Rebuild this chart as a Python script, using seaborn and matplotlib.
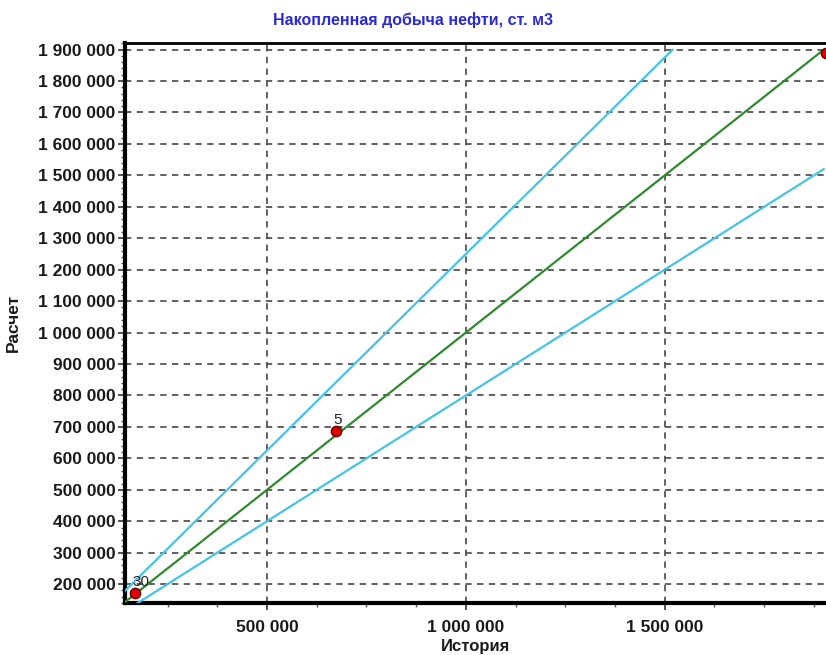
import matplotlib
matplotlib.use("Agg")
import matplotlib.pyplot as plt
import matplotlib.ticker as mticker
import seaborn as sns
import pandas as pd

# Data
history = [168000, 673000, 1905000]
calc = [171000, 687000, 1890000]
point_labels = ["30", "5", ""]
ratio_upper = 1.25
ratio_lower = 0.8
line_max = 1900000

title = "Накопленная добыча нефти, ст. м3"
xlabel = "История"
ylabel = "Расчет"

sns.set_style("white")
plt.rcParams['font.family'] = ['Liberation Sans', 'DejaVu Sans']

fig = plt.figure(figsize=(8.26, 6.55), dpi=100)
ax = fig.add_axes([125 / 826, 1 - 603 / 655, 702 / 826, 560 / 655])

# Reference lines
ref = pd.DataFrame({
    "x": [0, line_max / ratio_upper, 0, line_max, 0, line_max],
    "y": [0, line_max, 0, line_max, 0, line_max * ratio_lower],
    "line": ["upper", "upper", "equal", "equal", "lower", "lower"],
})
palette = {"upper": "#45c3e6", "equal": "#2f8a2f", "lower": "#45c3e6"}
sns.lineplot(data=ref, x="x", y="y", hue="line", palette=palette, ax=ax,
             legend=False, linewidth=1.6, sort=False, estimator=None, zorder=3)

pts = pd.DataFrame({"x": history, "y": calc, "label": point_labels})
sns.scatterplot(data=pts, x="x", y="y", ax=ax, color="#e00000", edgecolor="#600000",
                s=55, linewidth=1.0, zorder=5, legend=False, clip_on=False)
for xv, yv, lb in zip(history, calc, point_labels):
    if lb:
        ax.annotate(lb, (xv, yv), xytext=(-2, 5), textcoords="offset points",
                    fontsize=11, color="#222222", zorder=6)

ax.set_xlim(143000, 1908000)
ax.set_ylim(140000, 1921000)

fmt = mticker.FuncFormatter(lambda v, p: f"{int(round(v)):,}".replace(",", " "))
ax.xaxis.set_major_locator(mticker.FixedLocator([500000, 1000000, 1500000]))
ax.xaxis.set_minor_locator(mticker.MultipleLocator(125000))
ax.yaxis.set_major_locator(mticker.MultipleLocator(100000))
ax.yaxis.set_minor_locator(mticker.MultipleLocator(20000))
ax.xaxis.set_major_formatter(fmt)
ax.yaxis.set_major_formatter(fmt)

ax.grid(True, which="major", color="#555555", linestyle=(0, (3.5, 3)), linewidth=1.3)
ax.set_axisbelow(True)

for side in ["left", "bottom", "top"]:
    ax.spines[side].set_visible(True)
    ax.spines[side].set_color("black")
ax.spines["left"].set_linewidth(3)
ax.spines["bottom"].set_linewidth(3)
ax.spines["top"].set_linewidth(2)
ax.spines["right"].set_visible(False)

ax.tick_params(axis="both", which="major", direction="out", length=5, width=1.2,
               color="#333333", labelsize=12.5, pad=2, left=True, bottom=True)
ax.tick_params(axis="both", which="minor", direction="out", length=3, width=1,
               color="#555555", left=True, bottom=True)
ax.tick_params(axis="x", which="major", pad=7)
for lbl in ax.get_xticklabels() + ax.get_yticklabels():
    lbl.set_fontweight("bold")
    lbl.set_color("#1a1a1a")

ax.set_xlabel(xlabel, fontsize=12, fontweight="bold", color="#1a1a1a", va="top")
ax.set_ylabel(ylabel, fontsize=12.5, fontweight="bold", color="#1a1a1a", labelpad=4)
ax.yaxis.set_label_coords(-0.148, 0.5)
ax.xaxis.set_label_coords(0.5, -0.064)
fig.text(0.5, 1 - 20 / 655, title, ha="center", va="center", fontsize=11.5,
         fontweight="bold", color="#2a2ad6")

fig.savefig("out.png", dpi=100)
